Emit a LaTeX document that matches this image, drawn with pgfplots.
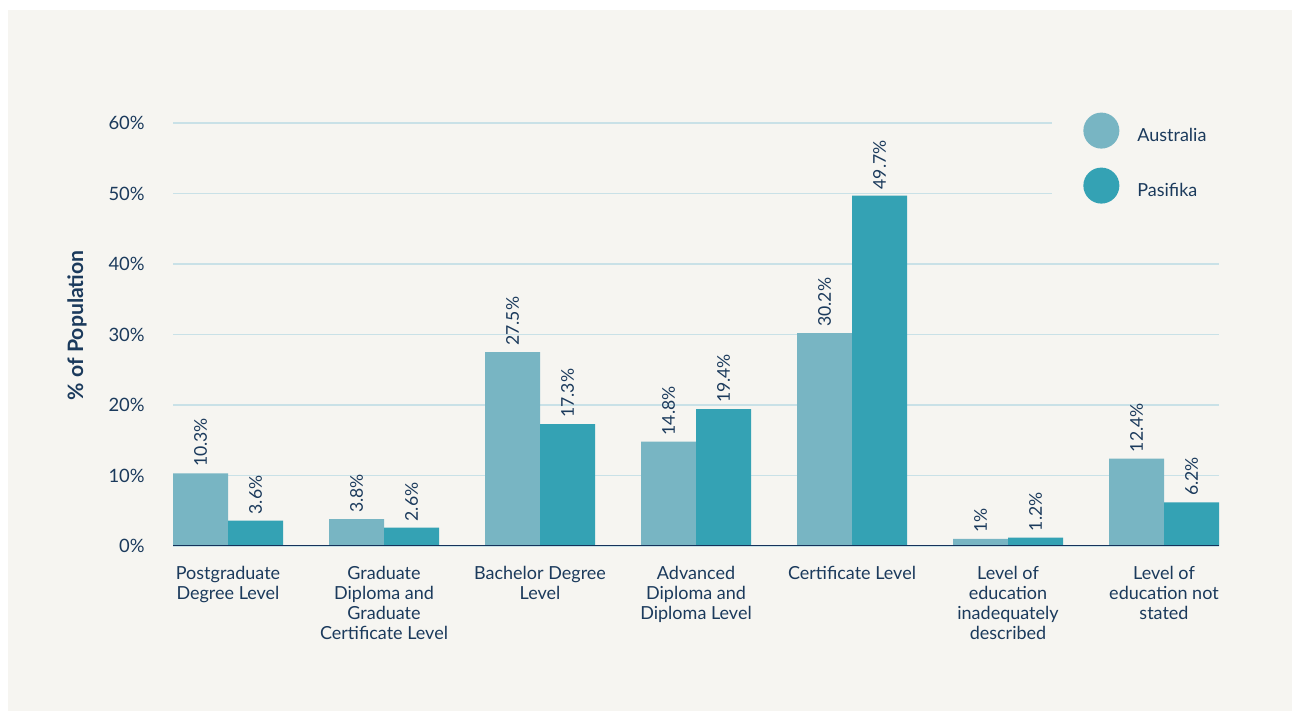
\documentclass[border=0pt]{standalone}
\usepackage{pgfplots}
\pgfplotsset{compat=1.18}
\usepackage{fontspec}
\setmainfont{Lato}
\definecolor{bgc}{HTML}{F6F5F1}
\definecolor{ausc}{HTML}{78B5C3}
\definecolor{pasc}{HTML}{34A2B4}
\definecolor{navy}{HTML}{1B3A5C}
\definecolor{axisc}{HTML}{16325A}
\definecolor{gridc}{HTML}{C9E1E7}
\begin{document}
\begin{tikzpicture}
\fill[white] (0,0) rectangle (646pt,355.5pt);
\fill[bgc] (4pt,0) rectangle (646pt,350.5pt);
\begin{axis}[
  at={(86.5pt,82.5pt)}, anchor=south west,
  scale only axis, width=523pt, height=211.5pt,
  ymin=0, ymax=60, xmin=-0.3526, xmax=6.3526,
  ytick={0,10,20,30,40,50,60},
  yticklabel={\pgfmathprintnumber{\tick}\%},
  /pgf/number format/assume math mode=true,
  yticklabel style={anchor=east, inner sep=0pt, xshift=-14pt, font=\fontsize{9.2}{10}\selectfont, text=navy},
  xtick={0,1,2,3,4,5,6},
  xticklabels={{Postgraduate\\Degree Level},{Graduate\\Diploma and\\Graduate\\Certificate Level},{Bachelor Degree\\Level},{Advanced\\Diploma and\\Diploma Level},{Certificate Level},{Level of\\education\\inadequately\\described},{Level of\\education not\\stated}},
  xticklabel style={anchor=north, align=center, inner sep=0pt, yshift=-10pt, font=\fontsize{9}{10}\selectfont, text=navy},
  major tick length=0pt,
  axis x line*=bottom, axis y line*=left,
  x axis line style={draw=none}, y axis line style={draw=none},
  ymajorgrids, grid style={color=gridc, line width=0.75pt},
  ylabel={\% of Population},
  ylabel style={at={(axis description cs:-0.0918,0.522)}, anchor=center, font=\fontsize{10.6}{12}\bfseries, text=navy},
  ybar=0pt, bar width=0.3526,
  nodes near coords={\pgfmathprintnumber{\pgfplotspointmeta}\%},
  every node near coord/.append style={rotate=90, anchor=west, inner xsep=3pt, font=\fontsize{8.8}{10}\selectfont, text=navy},
  legend style={draw=none, fill=bgc, at={(axis description cs:0.8403,1.048)}, anchor=north west, inner sep=0pt, row sep=0pt, column sep=0pt, font=\fontsize{9}{10}\selectfont, text=navy, nodes={inner xsep=9pt, inner ysep=0pt}},
  legend cell align=left,
]
\addplot[fill=ausc, draw=none, bar shift=-0.1763, legend image code/.code={\fill[ausc] (24.5pt,3pt) circle (9pt); \path[fill=none,draw=none] (0pt,-10.75pt) rectangle (33pt,16.75pt);}] coordinates {(0,10.3) (1,3.8) (2,27.5) (3,14.8) (4,30.2) (5,1) (6,12.4)};
\addlegendentry{Australia\hspace*{6pt}}
\addplot[fill=pasc, draw=none, bar shift=0.1763, legend image code/.code={\fill[pasc] (24.5pt,3pt) circle (9pt); \path[fill=none,draw=none] (0pt,-10.75pt) rectangle (33pt,16.75pt);}] coordinates {(0,3.6) (1,2.6) (2,17.3) (3,19.4) (4,49.7) (5,1.2) (6,6.2)};
\addlegendentry{Pasifika\hspace*{6pt}}
\draw[axisc, line width=1pt] (axis cs:-0.3526,0) -- (axis cs:6.3526,0);
\end{axis}
\end{tikzpicture}
\end{document}
